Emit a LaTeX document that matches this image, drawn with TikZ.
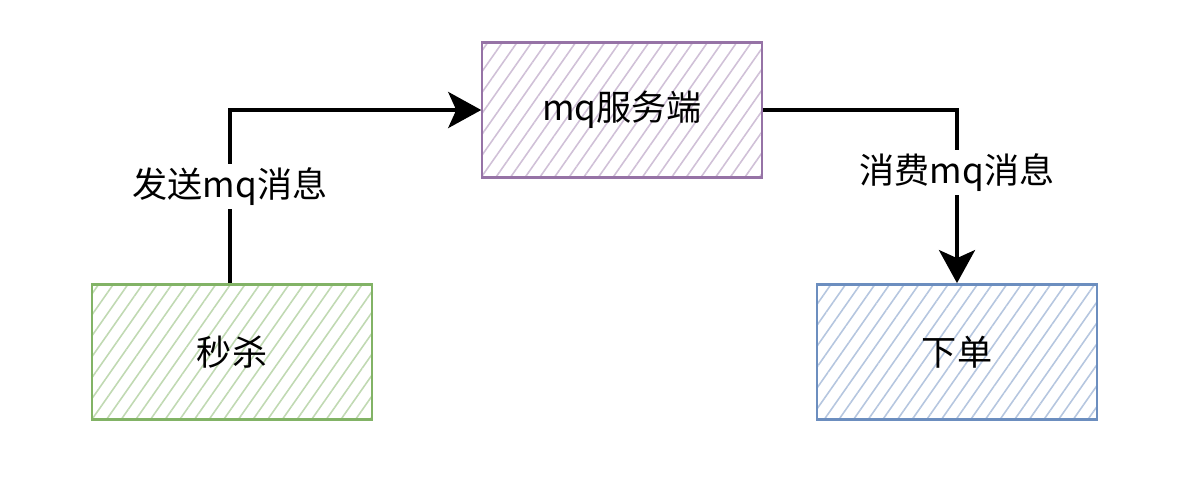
\documentclass[tikz,border=0pt]{standalone}
\usepackage{fontspec}
\newfontfamily\cjk{Noto Sans CJK SC}
\usepackage{tikz}
\usetikzlibrary{arrows.meta,positioning,patterns.meta}
\definecolor{mqgreen}{HTML}{82B366}
\definecolor{mqpurple}{HTML}{9673A6}
\definecolor{mqblue}{HTML}{6C8EBF}

\begin{document}
\begin{tikzpicture}[x=0.02cm, y=-0.02cm,
    box/.style={draw, line width=1.6pt, minimum width=5.6cm, minimum height=2.7cm, font=\cjk\fontsize{20}{24}\selectfont,
        pattern={Lines[angle=55, distance=0.24cm, line width=0.9pt]}},
    arrow/.style={-{Stealth[length=0.66cm, width=0.72cm, inset=0.16cm]}, line width=2.3pt, black},
    msg/.style={fill=white, font=\cjk\fontsize{20}{24}\selectfont, inner sep=2pt}
]
    \useasboundingbox (0,0) rectangle (1204,488);

    % mq server
    \node[box, draw=mqpurple, pattern color=mqpurple!45] (mq) at (622,110) {mq服务端};

    % flash sale
    \node[box, draw=mqgreen, pattern color=mqgreen!50] (sale) at (232,352) {秒杀};

    % place order
    \node[box, draw=mqblue, pattern color=mqblue!50] (order) at (957,352) {下单};

    % Arrows
    \draw[arrow] (sale.north -| 230,0) |- node[msg, pos=0.28] {发送mq消息} (mq.west);
    \draw[arrow] (mq.east) -| node[msg, pos=0.68] {消费mq消息} (order.north);
\end{tikzpicture}
\end{document}
